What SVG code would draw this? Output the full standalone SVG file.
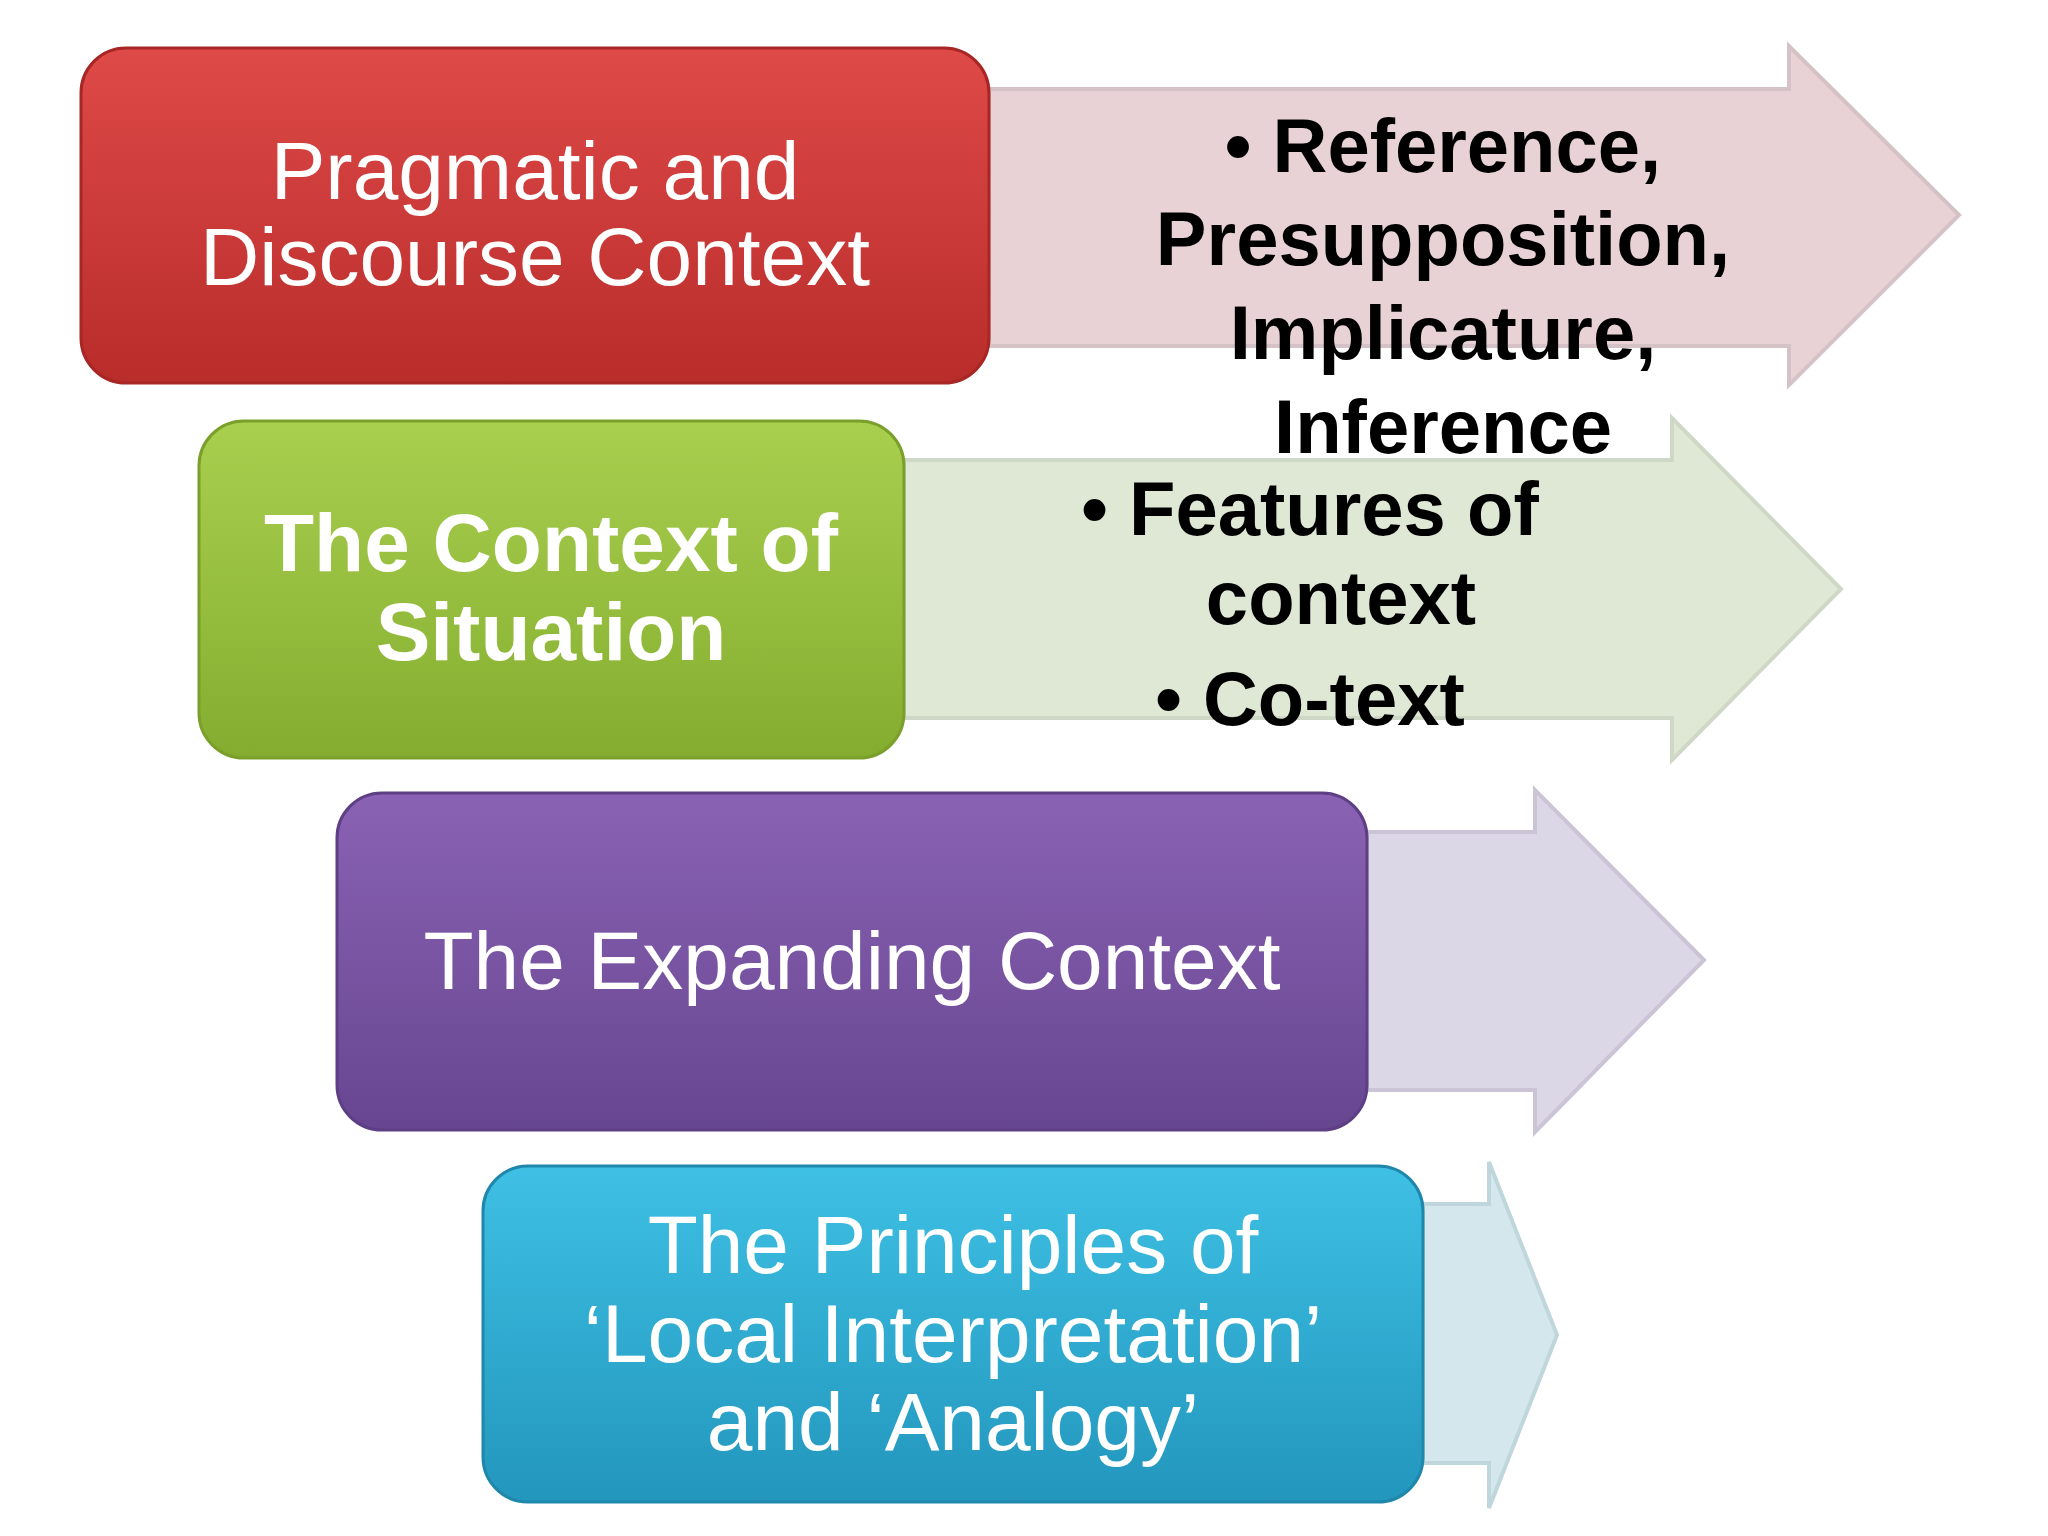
<svg xmlns="http://www.w3.org/2000/svg" width="2048" height="1536" viewBox="0 0 2048 1536">
<defs>
<linearGradient id="gr" x1="0" y1="0" x2="0" y2="1"><stop offset="0" stop-color="#de4a48"/><stop offset="1" stop-color="#b82c2a"/></linearGradient>
<linearGradient id="gg" x1="0" y1="0" x2="0" y2="1"><stop offset="0" stop-color="#a9cf4f"/><stop offset="1" stop-color="#84ad2f"/></linearGradient>
<linearGradient id="gp" x1="0" y1="0" x2="0" y2="1"><stop offset="0" stop-color="#8a62b4"/><stop offset="1" stop-color="#674690"/></linearGradient>
<linearGradient id="gb" x1="0" y1="0" x2="0" y2="1"><stop offset="0" stop-color="#3ec0e4"/><stop offset="1" stop-color="#2396bd"/></linearGradient>
</defs>
<style>
.box{stroke-width:3}
.arr{stroke-width:4}
.w{font-family:"Liberation Sans",Arial,sans-serif;font-size:82px;fill:#fff;text-anchor:middle}
.wb{font-weight:bold}
.b{font-family:"Liberation Sans",Arial,sans-serif;font-size:76px;font-weight:bold;fill:#000;text-anchor:middle}
</style>
<rect width="2048" height="1536" fill="#fff"/>
<g id="connectors">
<polygon class="arr" points="989,89 1789,89 1789,46 1959,215 1789,385 1789,346 989,346" fill="#e8d2d6" stroke="#d4c2c6"/>
<polygon class="arr" points="904,460 1672,460 1672,418 1841,589 1672,760 1672,718 904,718" fill="#dfe7d5" stroke="#cfd8c6"/>
<polygon class="arr" points="1367,832 1535,832 1535,790 1704,960 1535,1132 1535,1090 1367,1090" fill="#dcd7e6" stroke="#cac4d6"/>
<polygon class="arr" points="1423,1204 1489,1204 1489,1162 1557,1335 1489,1508 1489,1463 1423,1463" fill="#d3e7ed" stroke="#c0d6dd"/>
</g>
<g id="n1">
<rect class="box" x="81" y="48" width="908" height="335" rx="45" fill="url(#gr)" stroke="#a82624"/>
<text class="w" x="535" y="199">Pragmatic and</text>
<text class="w" x="535" y="285">Discourse Context</text>
</g>
<g id="t1">
<text class="b" x="1443" y="172">• Reference,</text>
<text class="b" x="1443" y="265">Presupposition,</text>
<text class="b" x="1443" y="359">Implicature,</text>
<text class="b" x="1443" y="453">Inference</text>
</g>
<g id="n2">
<rect class="box" x="199" y="421" width="705" height="337" rx="45" fill="url(#gg)" stroke="#7a9f2b"/>
<text class="w wb" x="551" y="571">The Context of</text>
<text class="w wb" x="551" y="660">Situation</text>
</g>
<g id="t2">
<text class="b" x="1310" y="535">• Features of</text>
<text class="b" x="1341" y="624">context</text>
<text class="b" x="1310" y="725">• Co-text</text>
</g>
<g id="n3">
<rect class="box" x="337" y="793" width="1030" height="337" rx="45" fill="url(#gp)" stroke="#5e3f85"/>
<text class="w" x="852" y="989">The Expanding Context</text>
</g>
<g id="n4">
<rect class="box" x="483" y="1166" width="940" height="336" rx="45" fill="url(#gb)" stroke="#1f87ab"/>
<text class="w" x="953" y="1273">The Principles of</text>
<text class="w" x="953" y="1362">‘Local Interpretation’</text>
<text class="w" x="953" y="1450">and ‘Analogy’</text>
</g>
</svg>
